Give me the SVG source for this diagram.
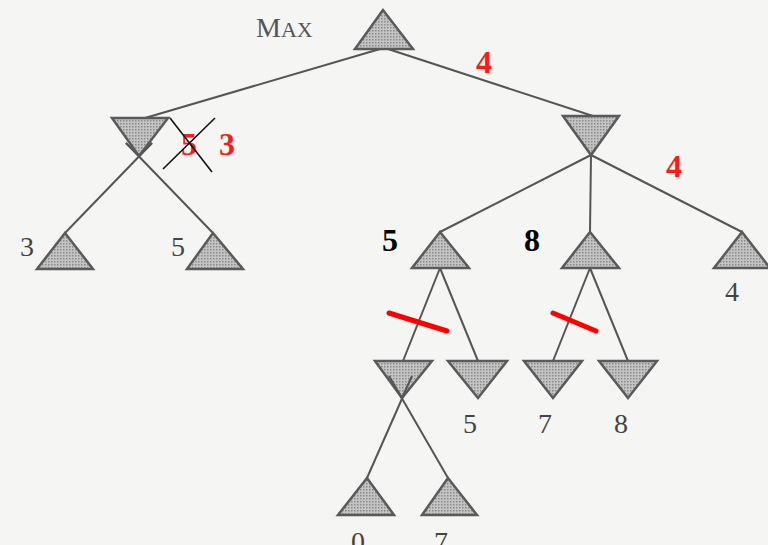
<svg xmlns="http://www.w3.org/2000/svg" width="768" height="545" viewBox="0 0 768 545">
<defs>
<pattern id="dots" width="3" height="3" patternUnits="userSpaceOnUse">
<rect width="3" height="3" fill="#c4c4c4"/>
<rect x="0" y="0" width="1.5" height="1.5" fill="#8a8a8a"/>
</pattern>
</defs>
<style>
.tri{fill:url(#dots);stroke:#5a5a5a;stroke-width:2.5;stroke-linejoin:miter}
.edge{stroke:#555;stroke-width:2;fill:none}
.cut{stroke:#ff0000;stroke-width:5;stroke-linecap:round}
.cross{stroke:#111;stroke-width:1.6}
.val{font-family:"Liberation Serif",serif;font-size:28px;fill:#444}
.red{font-family:"Liberation Serif",serif;font-size:32px;font-weight:bold;fill:#ff1a1a}
.blk{font-family:"Liberation Serif",serif;font-size:32px;font-weight:bold;fill:#000}
.lbl{font-family:"Liberation Serif",serif;fill:#555}
</style>
<rect width="768" height="545" fill="#f5f5f3"/>
<g id="connectors">
<line class="edge" x1="380" y1="49" x2="145" y2="118"/>
<line class="edge" x1="388" y1="49" x2="593" y2="116"/>
<line class="edge" x1="65" y1="233" x2="152" y2="143"/>
<line class="edge" x1="213" y1="233" x2="126" y2="143"/>
<line class="edge" x1="591" y1="155" x2="440" y2="232"/>
<line class="edge" x1="591" y1="155" x2="590" y2="232"/>
<line class="edge" x1="591" y1="155" x2="742" y2="232"/>
<line class="edge" x1="440" y1="268" x2="403" y2="361"/>
<line class="edge" x1="440" y1="268" x2="478" y2="361"/>
<line class="edge" x1="590" y1="268" x2="553" y2="361"/>
<line class="edge" x1="590" y1="268" x2="628" y2="361"/>
<line class="edge" x1="367" y1="478" x2="412" y2="376"/>
<line class="edge" x1="448" y1="478" x2="389" y2="376"/>
</g>
<g id="n-root"><polygon class="tri" points="383,10 355,49 413,49"/>
<text class="lbl" x="256" y="37"><tspan font-size="28">M</tspan><tspan font-size="22">AX</tspan></text></g>
<g id="n-minL"><polygon class="tri" points="112,118 168,118 139,156"/>
<text class="red" x="181" y="155">5</text>
<line class="cross" x1="170" y1="118" x2="212" y2="172"/>
<line class="cross" x1="215" y1="118" x2="163" y2="169"/>
<text class="red" x="219" y="155">3</text></g>
<g id="n-leaf3"><polygon class="tri" points="65,233 37,269 93,269"/><text class="val" x="20" y="256">3</text></g>
<g id="n-leaf5a"><polygon class="tri" points="213,233 187,269 243,269"/><text class="val" x="171" y="256">5</text></g>
<g id="n-minR"><polygon class="tri" points="563,116 619,116 591,155"/>
<text class="red" x="666" y="177">4</text></g>
<text class="red" x="476" y="73">4</text>
<g id="n-max5"><polygon class="tri" points="440,232 412,268 469,268"/><text class="blk" x="382" y="251">5</text></g>
<g id="n-max8"><polygon class="tri" points="590,232 562,268 619,268"/><text class="blk" x="524" y="251">8</text></g>
<g id="n-leaf4"><polygon class="tri" points="742,232 714,268 770,268"/><text class="val" x="725" y="301">4</text></g>
<g id="n-minA"><polygon class="tri" points="375,361 432,361 402,398"/></g>
<g id="n-minB"><polygon class="tri" points="448,361 507,361 478,398"/><text class="val" x="463" y="433">5</text></g>
<g id="n-minC"><polygon class="tri" points="524,361 582,361 553,398"/><text class="val" x="538" y="433">7</text></g>
<g id="n-minD"><polygon class="tri" points="599,361 657,361 628,398"/><text class="val" x="614" y="433">8</text></g>
<g id="n-leaf0"><polygon class="tri" points="367,478 338,515 394,515"/><text class="val" x="351" y="551">0</text></g>
<g id="n-leaf7"><polygon class="tri" points="448,478 422,515 477,515"/><text class="val" x="434" y="551">7</text></g>
<g id="cuts">
<line class="cut" x1="389" y1="313" x2="447" y2="331"/>
<line class="cut" x1="553" y1="313" x2="596" y2="331"/>
</g>
<g id="xlines">
<line class="edge" x1="139" y1="156" x2="152" y2="143"/>
<line class="edge" x1="139" y1="156" x2="126" y2="143"/>
<line class="edge" x1="402" y1="398" x2="412" y2="376"/>
<line class="edge" x1="402" y1="398" x2="389" y2="376"/>
</g>
</svg>
